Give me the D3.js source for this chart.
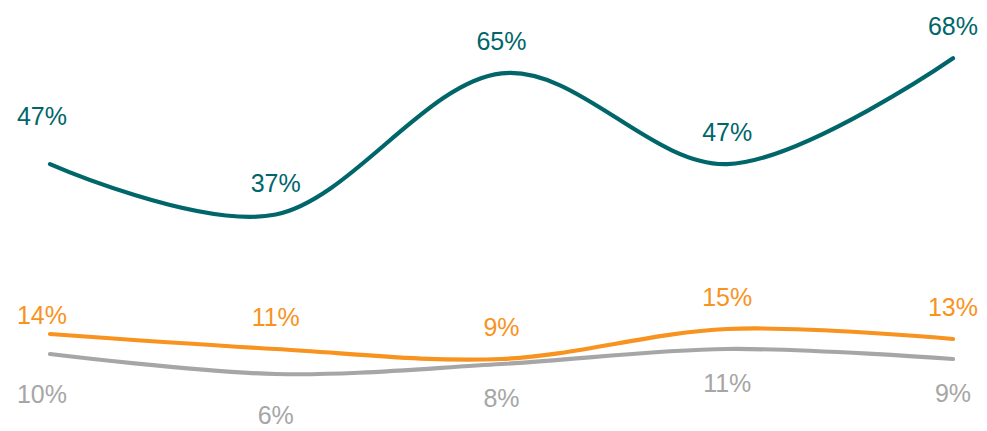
<!DOCTYPE html>
<html><head><meta charset="utf-8">
<script src="https://cdn.jsdelivr.net/npm/d3@7"></script>
<style>html,body{margin:0;padding:0;background:#fff;}svg{display:block;}</style>
</head><body>
<svg id="chart" width="987" height="431"></svg>
<script>
const categories = ["P1", "P2", "P3", "P4", "P5"];
const tealValues = [47, 37, 65, 47, 68];
const orangeValues = [14, 11, 9, 15, 13];
const grayValues = [10, 6, 8, 11, 9];

const svg = d3.select("#chart");
const x = d3.scalePoint().domain(categories).range([50, 953]);
const yMain = d3.scaleLinear().domain([0, 70]).range([401, 401 - 70 * 5.04]);
const ySecondary = d3.scaleLinear().domain([0, 70]).range([404, 404 - 70 * 5]);

const series = [
  {values: grayValues, color: "#a6a6a6", y: ySecondary, pos: "below"},
  {values: orangeValues, color: "#f7931e", y: ySecondary, pos: "above"},
  {values: tealValues, color: "#00666a", y: yMain, pos: "above"}
];

const line = (s) => d3.line()
  .x((d, i) => x(categories[i]))
  .y(d => s.y(d))
  .curve(d3.curveCardinal.tension(0));

series.forEach(s => {
  svg.append("path")
    .datum(s.values)
    .attr("d", line(s))
    .attr("fill", "none")
    .attr("stroke", s.color)
    .attr("stroke-width", 4.2)
    .attr("stroke-linecap", "round")
    .attr("stroke-linejoin", "round");
});

// label placement relative to the point (baseline offset)
function labelOffset(s, i) {
  if (s.pos === "below") {
    if (i === 0) return 49;
    if (i === 1) return 50;
    return 43;
  }
  if (s.values === tealValues && i === 0) return -39;
  if (s.values === orangeValues && i === 0) return -10;
  return -23;
}

series.forEach(s => {
  svg.append("g").selectAll("text")
    .data(s.values)
    .join("text")
    .attr("x", (d, i) => x(categories[i]) - (i === 0 ? 8 : 0))
    .attr("y", (d, i) => s.y(d) + labelOffset(s, i))
    .attr("text-anchor", "middle")
    .attr("font-family", "Liberation Sans, Arial, sans-serif")
    .attr("font-size", 25)
    .attr("fill", s.color)
    .text(d => d + "%");
});
</script>
</body></html>
